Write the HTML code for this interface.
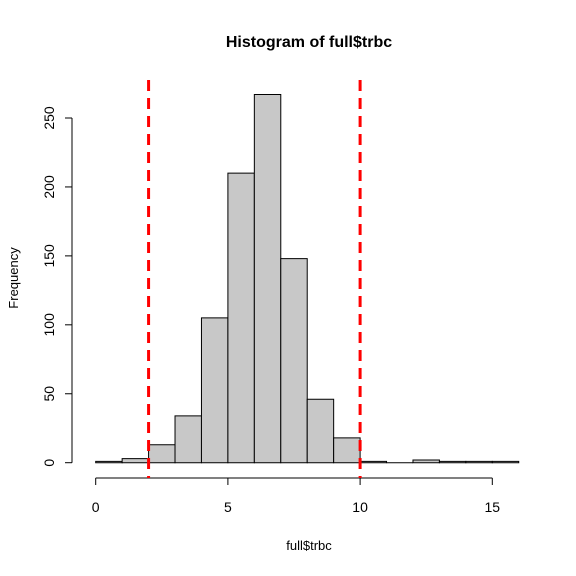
<!DOCTYPE html>
<html><head><meta charset="utf-8"><style>body{margin:0;background:#fff}svg{display:block;font-family:"Liberation Sans",Arial,sans-serif}</style></head>
<body>
<svg id="chart" width="576" height="576">
<text x="309" y="47" text-anchor="middle" font-size="16" font-weight="bold">Histogram of full$trbc</text>
<text x="309" y="550" text-anchor="middle" font-size="13">full$trbc</text>
<text transform="translate(18,278) rotate(-90)" text-anchor="middle" font-size="13">Frequency</text>
<g id="bars"></g><g id="axes"></g><g id="vlines"></g>
</svg>
<script>
const binStarts=[0,1,2,3,4,5,6,7,8,9,10,11,12,13,14,15];
const counts=[1,3,13,34,105,210,267,148,46,18,1,0,2,1,1,1];
const xTicks=[0,5,10,15];
const yTicks=[0,50,100,150,200,250];
const cutoffs=[2,10];
const NS="http://www.w3.org/2000/svg";
const X=v=>95.7+v*(492.3-95.7)/15;
const Y=v=>462.7-v*(462.7-118)/250;
function mk(t,a,p){const e=document.createElementNS(NS,t);for(const k in a)e.setAttribute(k,a[k]);p.appendChild(e);return e;}
const bars=document.getElementById('bars'),axes=document.getElementById('axes'),vl=document.getElementById('vlines');
binStarts.forEach((b,i)=>{
 const x0=X(b),x1=X(b+1),y0=Y(0),y1=Y(counts[i]);
 const r=mk('path',{d:`M${x0},${y0}L${x0},${y1}L${x1},${y1}L${x1},${y0}Z`,fill:'#c8c8c8',stroke:'#000','stroke-width':1},bars);
 
 
});
const xa=mk('line',{x1:X(xTicks[0]),x2:X(xTicks[xTicks.length-1]),y1:478,y2:478,stroke:'#000'},axes);


xTicks.forEach(t=>{
 mk('line',{x1:X(t),x2:X(t),y1:478,y2:485,stroke:'#000'},axes);
 const tx=mk('text',{x:X(t),y:512,'text-anchor':'middle','font-size':14},axes);tx.textContent=t;
 
 
});
const ya=mk('line',{x1:72,x2:72,y1:Y(yTicks[0]),y2:Y(yTicks[yTicks.length-1]),stroke:'#000'},axes);


yTicks.forEach(t=>{
 mk('line',{x1:65,x2:72,y1:Y(t),y2:Y(t),stroke:'#000'},axes);
 const tx=mk('text',{transform:`translate(54,${Y(t)}) rotate(-90)`,'text-anchor':'middle','font-size':14},axes);tx.textContent=t;
 
 
});
cutoffs.forEach(c=>{
 const l=mk('line',{x1:X(c),x2:X(c),y1:80,y2:478,stroke:'#f00','stroke-width':3,'stroke-dasharray':'11,7'},vl);
 
 
});
</script>
</body></html>
